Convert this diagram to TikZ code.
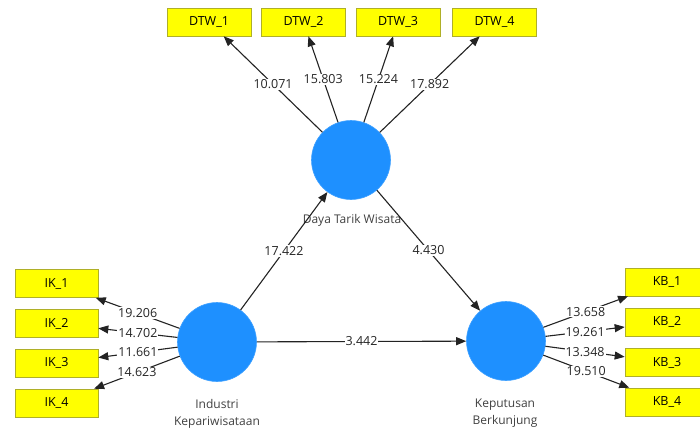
\documentclass[tikz,border=0pt]{standalone}
\usepackage{fontspec}
\setmainfont{Open Sans}
\usetikzlibrary{arrows.meta}
\definecolor{lvblue}{RGB}{30,144,255}
\definecolor{indy}{RGB}{255,255,0}
\definecolor{indyedge}{RGB}{175,175,40}
\definecolor{edgegray}{RGB}{35,35,35}
\tikzset{
  latent/.style={circle,fill=lvblue,draw=lvblue!85!white,line width=0.6pt,minimum size=79pt,inner sep=0pt},
  indbox/.style={rectangle,fill=indy,draw=indyedge,line width=0.6pt,minimum width=84pt,minimum height=28pt,inner sep=0pt,font=\fontsize{12.5}{14}\selectfont},
  lvlabel/.style={align=center,font=\fontsize{12}{17.5}\selectfont,text=black!75,inner sep=0pt},
  conn/.style={draw=edgegray,line width=1.1pt,-{Stealth[length=10pt,width=8pt,inset=0pt]}},
  wlabel/.style={fill=white,inner sep=1pt,font=\fontsize{12.5}{14}\selectfont,text=black!85}
}
\begin{document}
\begin{tikzpicture}[x=1pt,y=-1pt]
\useasboundingbox (0,0) rectangle (700,429);
\clip (0,0) rectangle (700,429);
% latent variables
\node[latent] (dtw) at (351,160) {};
\node[latent] (ik) at (217,342) {};
\node[latent] (kb) at (506,341) {};
% labels of latent variables
\node[lvlabel] (dtwl) at (352,220) {Daya Tarik Wisata};
\node[lvlabel] (ikl) at (217,414) {Industri\\Kepariwisataan};
\node[lvlabel] (kbl) at (505,413) {Keputusan\\Berkunjung};
% indicators
\node[indbox] (d1) at (209,22) {DTW\_1};
\node[indbox] (d2) at (303.5,22) {DTW\_2};
\node[indbox] (d3) at (398,22) {DTW\_3};
\node[indbox] (d4) at (494.5,22) {DTW\_4};
\node[indbox,minimum width=83pt] (i1) at (56.5,283.5) {IK\_1};
\node[indbox,minimum width=83pt] (i2) at (56.5,323.5) {IK\_2};
\node[indbox,minimum width=83pt] (i3) at (56.5,363) {IK\_3};
\node[indbox,minimum width=83pt] (i4) at (56.5,403) {IK\_4};
\node[indbox] (k1) at (667,282) {KB\_1};
\node[indbox] (k2) at (667,322) {KB\_2};
\node[indbox] (k3) at (667,362.5) {KB\_3};
\node[indbox] (k4) at (667,402) {KB\_4};
% outer loadings
\draw[conn] (dtw) -- node[wlabel] {10.071} (d1);
\draw[conn] (dtw) -- node[wlabel] {15.803} (d2);
\draw[conn] (dtw) -- node[wlabel] {15.224} (d3);
\draw[conn] (dtw) -- node[wlabel] {17.892} (d4);
\draw[conn] (ik) -- node[wlabel] {19.206} (i1);
\draw[conn] (ik) -- node[wlabel] {14.702} (i2);
\draw[conn] (ik) -- node[wlabel] {11.661} (i3);
\draw[conn] (ik) -- node[wlabel] {14.623} (i4);
\draw[conn] (kb) -- node[wlabel] {13.658} (k1);
\draw[conn] (kb) -- node[wlabel] {19.261} (k2);
\draw[conn] (kb) -- node[wlabel] {13.348} (k3);
\draw[conn] (kb) -- node[wlabel] {19.510} (k4);
% structural paths
\draw[conn] (ik) -- node[wlabel] {17.422} (dtw);
\draw[conn] (dtw) -- node[wlabel] {4.430} (kb);
\draw[conn] (ik) -- node[wlabel] {3.442} (kb);
\end{tikzpicture}
\end{document}
